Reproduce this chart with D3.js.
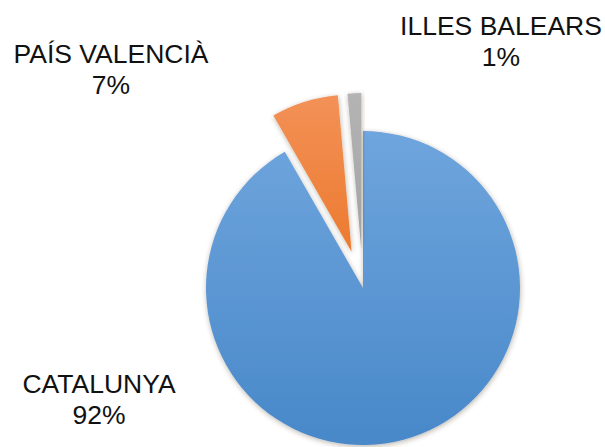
<!DOCTYPE html>
<html>
<head>
<meta charset="utf-8">
<script src="https://cdn.jsdelivr.net/npm/d3@7"></script>
<style>
  html, body { margin: 0; padding: 0; background: #fff; }
  svg { display: block; }
  text { font-family: "Liberation Sans", Arial, sans-serif; fill: #111; }
</style>
</head>
<body>
<svg id="chart" width="605" height="447"></svg>
<script>
// 데이터
const regions = ["CATALUNYA", "PAÍS VALENCIÀ", "ILLES BALEARS"];
const shares = [91.7, 6.9, 1.4];
const shareLabels = ["92%", "7%", "1%"];

// 색상 (위 → 아래 그라디언트)
const colorTop = ["#6fa5dd", "#f39157", "#b4b4b4"];
const colorBottom = ["#4888c9", "#ec7a2f", "#a2a2a2"];

const W = 605, H = 447;
const cx = 363, cy = 288, R = 157;
const explode = [0, 38, 38];

// 라벨 위치 (중심 x, 첫 줄 baseline)
const labelPos = [[99, 393], [111, 63], [501, 35]];

const svg = d3.select("#chart");
const defs = svg.append("defs");

const shadow = defs.append("filter")
  .attr("id", "shadow")
  .attr("x", "-20%").attr("y", "-20%")
  .attr("width", "140%").attr("height", "140%");
shadow.append("feDropShadow")
  .attr("dx", 0.5).attr("dy", 1.5)
  .attr("stdDeviation", 2.5)
  .attr("flood-color", "#3a2a1a")
  .attr("flood-opacity", 0.35);

regions.forEach((r, i) => {
  const g = defs.append("linearGradient")
    .attr("id", "grad" + i)
    .attr("x1", 0).attr("y1", 0).attr("x2", 0).attr("y2", 1);
  g.append("stop").attr("offset", "0%").attr("stop-color", colorTop[i]);
  g.append("stop").attr("offset", "100%").attr("stop-color", colorBottom[i]);
});

const pie = d3.pie().sort(null).value((d) => d)
  .startAngle(0).endAngle(2 * Math.PI);
const arcs = pie(shares);

const arc = d3.arc().innerRadius(0).outerRadius(R);

const g = svg.append("g").attr("transform", `translate(${cx},${cy})`);

g.selectAll("path.slice")
  .data(arcs)
  .enter()
  .append("path")
  .attr("class", "slice")
  .attr("d", arc)
  .attr("fill", (d, i) => `url(#grad${i})`)
  .attr("filter", "url(#shadow)")
  .attr("transform", (d, i) => {
    const mid = (d.startAngle + d.endAngle) / 2;
    const dx = Math.sin(mid) * explode[i];
    const dy = -Math.cos(mid) * explode[i];
    return `translate(${dx},${dy})`;
  });

// 라벨
const labels = svg.selectAll("g.label")
  .data(regions)
  .enter()
  .append("g")
  .attr("class", "label");

labels.append("text")
  .attr("x", (d, i) => labelPos[i][0])
  .attr("y", (d, i) => labelPos[i][1])
  .attr("text-anchor", "middle")
  .style("font-size", "26.5px")
  .text((d) => d);

labels.append("text")
  .attr("x", (d, i) => labelPos[i][0])
  .attr("y", (d, i) => labelPos[i][1] + 30.5)
  .attr("text-anchor", "middle")
  .style("font-size", "26.5px")
  .text((d, i) => shareLabels[i]);
</script>
</body>
</html>
